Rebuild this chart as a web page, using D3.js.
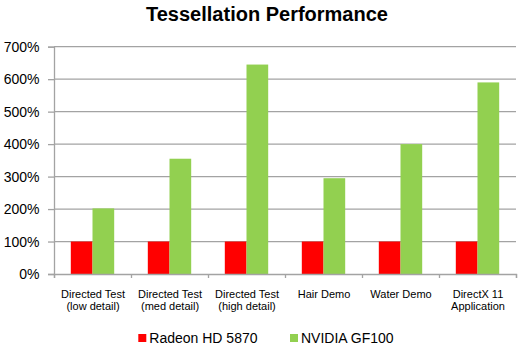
<!DOCTYPE html>
<html>
<head>
<meta charset="utf-8">
<script src="https://cdn.jsdelivr.net/npm/d3@7"></script>
<style>
  body { margin: 0; background: #fff; }
  svg { display: block; font-family: "Liberation Sans", Arial, Helvetica, sans-serif; }
</style>
</head>
<body>
<svg id="chart" width="521" height="353"></svg>
<script>
const categories = [
  ["Directed Test", "(low detail)"],
  ["Directed Test", "(med detail)"],
  ["Directed Test", "(high detail)"],
  ["Hair Demo"],
  ["Water Demo"],
  ["DirectX 11", "Application"]
];
const seriesNames = ["Radeon HD 5870", "NVIDIA GF100"];
const radeon = [1, 1, 1, 1, 1, 1];
const nvidia = [2.02, 3.55, 6.45, 2.95, 4.0, 5.9];
const yTicks = [0, 1, 2, 3, 4, 5, 6, 7];
const colors = ["#ff0000", "#92d050"];
const title = "Tessellation Performance";

const svg = d3.select("#chart");
const plotLeft = 54, plotRight = 516, plotTop = 46.7, plotBottom = 274;

const x = d3.scaleBand().domain(d3.range(categories.length)).range([plotLeft, plotRight]).padding(0);
const xs = d3.scaleBand().domain([0, 1]).range([0, x.bandwidth()]).paddingInner(0).paddingOuter(0.775);
const y = d3.scaleLinear().domain([0, 7]).range([plotBottom, plotTop]);

// title
svg.append("text").attr("x", 267).attr("y", 20.5).attr("text-anchor", "middle")
  .attr("font-size", 20).attr("font-weight", "bold").attr("fill", "#000").text(title);

// gridlines
svg.append("g").selectAll("line").data(yTicks.filter(d => d > 0)).join("line")
  .attr("x1", plotLeft).attr("x2", plotRight).attr("y1", d => y(d)).attr("y2", d => y(d))
  .attr("stroke", "#a3a3a3").attr("stroke-width", 1.3);

// y axis
const yAxis = d3.axisLeft(y).tickValues(yTicks).tickSize(6).tickPadding(8)
  .tickFormat(d => (d * 100) + "%");
const gy = svg.append("g").attr("transform", `translate(${plotLeft},0)`).call(yAxis);
gy.select(".domain").attr("stroke", "#a3a3a3").attr("stroke-width", 1.3);
gy.selectAll(".tick line").attr("stroke", "#a3a3a3").attr("stroke-width", 1.3);
gy.selectAll(".tick text").attr("font-size", 14).attr("fill", "#000")
  .attr("font-family", "Liberation Sans, Arial, sans-serif").attr("x", -14.5);

// bars
const data = categories.map((c, i) => [radeon[i], nvidia[i]]);
const groups = svg.append("g").selectAll("g").data(data).join("g")
  .attr("transform", (d, i) => `translate(${x(i)},0)`);
groups.selectAll("rect").data(d => d.map((v, j) => ({v, j}))).join("rect")
  .attr("x", d => xs(d.j)).attr("width", xs.bandwidth())
  .attr("y", d => y(d.v)).attr("height", d => y(0) - y(d.v))
  .attr("fill", d => colors[d.j]);

// x axis
const xAxisScale = d3.scaleLinear().domain([0, categories.length]).range([plotLeft, plotRight]);
const gx = svg.append("g").attr("transform", `translate(0,${plotBottom})`)
  .call(d3.axisBottom(xAxisScale).tickValues(d3.range(categories.length + 1)).tickSize(4).tickFormat(""));
gx.select(".domain").attr("stroke", "#a3a3a3").attr("stroke-width", 1.3);
gx.selectAll(".tick line").attr("stroke", "#a3a3a3").attr("stroke-width", 1.3);

// category labels
const lbl = svg.append("g").selectAll("text").data(categories).join("text")
  .attr("text-anchor", "middle").attr("font-size", 11).attr("fill", "#000")
  .attr("transform", (d, i) => `translate(${x(i) + x.bandwidth() / 2 + 0.5},297.5)`);
lbl.selectAll("tspan").data(d => d).join("tspan")
  .attr("x", 0).attr("dy", (d, k) => k === 0 ? 0 : 12.5).text(d => d);

// legend
const legendX = [138.3, 290];
const lg = svg.append("g").selectAll("g").data(seriesNames).join("g")
  .attr("transform", (d, i) => `translate(${legendX[i]},334)`);
lg.append("rect").attr("width", 8).attr("height", 8).attr("fill", (d, i) => colors[i]);
lg.append("text").attr("x", 11).attr("y", 9.2).attr("font-size", 14).attr("fill", "#000").text(d => d);
</script>
</body>
</html>
